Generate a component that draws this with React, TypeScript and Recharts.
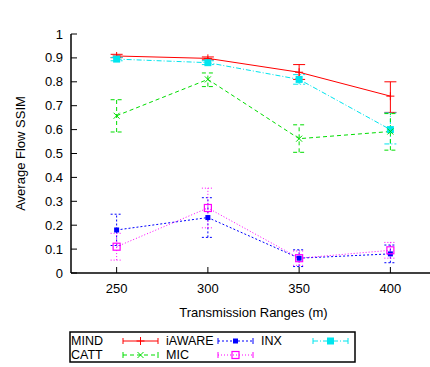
import React from "react";
import { LineChart, Line, XAxis, YAxis, ErrorBar } from "recharts";

// ── Data ──
const ranges = [250, 300, 350, 400];
const yTicks = [0, 0.1, 0.2, 0.3, 0.4, 0.5, 0.6, 0.7, 0.8, 0.9, 1];

const mind = [0.908, 0.898, 0.84, 0.74];
const mindErr = [[0.007, 0.007], [0.006, 0.006], [0.03, 0.032], [0.068, 0.06]];
const catt = [0.658, 0.81, 0.562, 0.592];
const cattErr = [[0.068, 0.067], [0.03, 0.027], [0.057, 0.058], [0.078, 0.075]];
const iaware = [0.18, 0.232, 0.062, 0.08];
const iawareErr = [[0.065, 0.066], [0.083, 0.083], [0.035, 0.035], [0.037, 0.037]];
const mic = [0.11, 0.272, 0.062, 0.095];
const micErr = [[0.056, 0.056], [0.083, 0.083], [0.03, 0.03], [0.033, 0.033]];
const inx = [0.895, 0.88, 0.81, 0.6];
const inxErr = [[0.007, 0.007], [0.008, 0.008], [0.02, 0.02], [0.06, 0.07]];

const rows = ranges.map((r, i) => ({
  range: r,
  mind: mind[i],
  mindErr: mindErr[i],
  catt: catt[i],
  cattErr: cattErr[i],
  iaware: iaware[i],
  iawareErr: iawareErr[i],
  mic: mic[i],
  micErr: micErr[i],
  inx: inx[i],
  inxErr: inxErr[i],
}));

const FONT = '"Liberation Sans", Arial, Helvetica, sans-serif';

// ── Series styles ──
const series = [
  { key: "mind", name: "MIND", color: "#ff0000", dash: undefined, marker: "plus" },
  { key: "iaware", name: "iAWARE", color: "#0000ff", dash: "2 2", marker: "smallSquare" },
  { key: "inx", name: "INX", color: "#00e5ee", dash: "5 2 1 2", marker: "square" },
  { key: "catt", name: "CATT", color: "#00dd00", dash: "4 3", marker: "cross" },
  { key: "mic", name: "MIC", color: "#ff00ff", dash: "1 2", marker: "openSquare" },
];

function Marker({ kind, cx, cy, color }: { kind: string; cx: number; cy: number; color: string }) {
  if (kind === "plus") {
    return (
      <g stroke={color} strokeWidth={1}>
        <line x1={cx - 4} x2={cx + 4} y1={cy} y2={cy} />
        <line x1={cx} x2={cx} y1={cy - 4} y2={cy + 4} />
      </g>
    );
  }
  if (kind === "cross") {
    return (
      <g stroke={color} strokeWidth={1}>
        <line x1={cx - 3} x2={cx + 3} y1={cy - 3} y2={cy + 3} />
        <line x1={cx - 3} x2={cx + 3} y1={cy + 3} y2={cy - 3} />
      </g>
    );
  }
  if (kind === "smallSquare") {
    return <rect x={cx - 2.5} y={cy - 2.5} width={5} height={5} fill={color} />;
  }
  if (kind === "square") {
    return <rect x={cx - 3.5} y={cy - 3.5} width={7} height={7} fill={color} />;
  }
  return <rect x={cx - 3.5} y={cy - 3.5} width={7} height={7} fill="none" stroke={color} strokeWidth={1.2} />;
}

// ── Custom ticks (gnuplot style, inward) ──
function BottomTick({ x, y, payload }: any) {
  return (
    <g>
      <line x1={x} x2={x} y1={y} y2={y - 6} stroke="#000" />
      <text x={x} y={y + 15} textAnchor="middle" dominantBaseline="central" fontSize={13} fill="#000" fontFamily={FONT}>
        {payload.value}
      </text>
    </g>
  );
}

function TopTick({ x, y }: any) {
  return <line x1={x} x2={x} y1={y} y2={y + 6} stroke="#000" />;
}

function LeftTick({ x, y, payload }: any) {
  return (
    <g>
      <line x1={x} x2={x + 6} y1={y} y2={y} stroke="#000" />
      <text x={x - 8} y={y} textAnchor="end" dominantBaseline="central" fontSize={13} fill="#000" fontFamily={FONT}>
        {String(payload.value)}
      </text>
    </g>
  );
}

// ── Legend box ──
function LegendBox() {
  return (
    <svg width={287} height={32} style={{ position: "absolute", left: 69, top: 331 }}>
      <rect x={1} y={1} width={285} height={30} fill="#fff" stroke="#000" strokeWidth={1.5} />
      {series.map((s, i) => {
        const col = i % 3;
        const row = Math.floor(i / 3);
        const tx = 2 + col * 95;
        const sx = 54 + col * 95;
        const cy = 10 + row * 14;
        return (
          <g key={s.key}>
            <text x={tx} y={cy} dominantBaseline="central" fontSize={12.5} fontFamily={FONT} fill="#000">
              {s.name}
            </text>
            <g stroke={s.color} strokeWidth={1}>
              <line x1={sx} x2={sx + 35} y1={cy} y2={cy} strokeDasharray={s.dash} />
              <line x1={sx} x2={sx} y1={cy - 3} y2={cy + 3} />
              <line x1={sx + 35} x2={sx + 35} y1={cy - 3} y2={cy + 3} />
            </g>
            <Marker kind={s.marker} cx={sx + 17.5} cy={cy} color={s.color} />
          </g>
        );
      })}
    </svg>
  );
}

export default function App() {
  return (
    <div
      style={{
        position: "fixed",
        left: 0,
        top: 0,
        width: 430,
        height: 367,
        overflow: "hidden",
        background: "#fff",
        fontFamily: FONT,
      }}
    >
      <div style={{ position: "absolute", left: 0, top: 0 }}>
        <LineChart width={440} height={367} data={rows} margin={{ top: 34, right: 4, left: 31, bottom: 64 }}>
          <XAxis
            dataKey="range"
            type="number"
            domain={[225, 425]}
            ticks={ranges}
            height={30}
            tickSize={0}
            tickMargin={0}
            tickLine={false}
            axisLine={{ stroke: "#000", strokeWidth: 1.5 }}
            tick={BottomTick}
            label={({ viewBox }: any) => (
              <text
                x={viewBox.x + viewBox.width / 2}
                y={viewBox.y + 39}
                textAnchor="middle"
                dominantBaseline="central"
                fontSize={13}
                fontFamily={FONT}
                fill="#000"
              >
                Transmission Ranges (m)
              </text>
            )}
          />
          <XAxis
            xAxisId="top"
            orientation="top"
            dataKey="range"
            type="number"
            domain={[225, 425]}
            ticks={ranges}
            height={0}
            tickSize={0}
            tickMargin={0}
            tickLine={false}
            axisLine={{ stroke: "#000", strokeWidth: 1.5 }}
            tick={TopTick}
            label={({ viewBox }: any) => (
              <text
                x={viewBox.x + viewBox.width / 2}
                y={12}
                textAnchor="middle"
                dominantBaseline="central"
                fontSize={13}
                fontFamily={FONT}
                fill="#000"
              >
                Outdoor Environment
              </text>
            )}
          />
          <YAxis
            type="number"
            domain={[0, 1]}
            ticks={yTicks}
            width={40}
            tickSize={0}
            tickMargin={0}
            tickLine={false}
            axisLine={{ stroke: "#000", strokeWidth: 1.5 }}
            tick={LeftTick}
            label={({ viewBox }: any) => {
              const cx = viewBox.x - 11;
              const cy = viewBox.y + viewBox.height / 2;
              return (
                <text
                  x={cx}
                  y={cy}
                  transform={`rotate(-90, ${cx}, ${cy})`}
                  textAnchor="middle"
                  dominantBaseline="central"
                  fontSize={13}
                  fontFamily={FONT}
                  fill="#000"
                >
                  Average Flow SSIM
                </text>
              );
            }}
          />
          {series.map((s) => (
            <Line
              key={s.key}
              dataKey={s.key}
              name={s.name}
              type="linear"
              stroke={s.color}
              strokeWidth={1}
              strokeDasharray={s.dash}
              isAnimationActive={false}
              dot={(p: any) => <Marker key={`${s.key}-${p.index}`} kind={s.marker} cx={p.cx} cy={p.cy} color={s.color} />}
              activeDot={false}
            >
              <ErrorBar dataKey={`${s.key}Err`} direction="y" width={6} stroke={s.color} strokeWidth={1} strokeDasharray={s.dash} />
            </Line>
          ))}
        </LineChart>
      </div>
      <LegendBox />
    </div>
  );
}
